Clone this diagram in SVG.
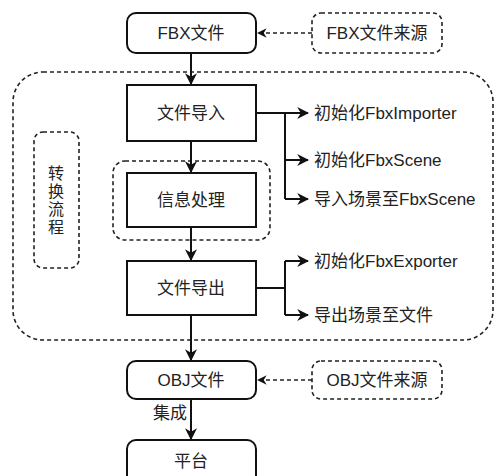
<svg xmlns="http://www.w3.org/2000/svg" width="496" height="476" viewBox="0 0 496 476">
<defs>
<marker id="ah" viewBox="0 0 10 10" refX="9" refY="5" markerWidth="6" markerHeight="6" orient="auto" markerUnits="strokeWidth">
<path d="M0,0 L10,5 L0,10 L3,5 Z" fill="#111"/>
</marker>
<style>
.box{fill:#fff;stroke:#111;stroke-width:2}
.dash{fill:none;stroke:#222;stroke-width:1.6;stroke-dasharray:4 3}
.t{font-family:"Liberation Sans","Noto Sans CJK SC",sans-serif;font-size:17px;fill:#222;text-anchor:middle;dominant-baseline:central}
.v{font-size:16px}
.l{font-family:"Liberation Sans","Noto Sans CJK SC",sans-serif;font-size:17px;fill:#222;dominant-baseline:central}
.c{fill:none;stroke:#111;stroke-width:2}
.cd{fill:none;stroke:#222;stroke-width:1.6;stroke-dasharray:4 3}
</style>
</defs>
<rect width="496" height="476" fill="#fff"/>
<g id="container">
<rect class="dash" x="13" y="72" width="480" height="268" rx="30"/>
</g>
<g id="flow-label">
<rect class="dash" x="34" y="132" width="45" height="136" rx="9"/>
<text class="t v" x="56" y="173">转</text>
<text class="t v" x="56" y="191">换</text>
<text class="t v" x="56" y="209">流</text>
<text class="t v" x="56" y="227">程</text>
</g>
<g id="info-group">
<rect class="dash" x="113" y="161" width="157" height="79" rx="12"/>
</g>
<g id="connectors">
<line class="c" x1="191" y1="53" x2="191" y2="84" marker-end="url(#ah)"/>
<line class="cd" x1="312" y1="33" x2="258" y2="33" marker-end="url(#ah)"/>
<line class="c" x1="191" y1="141" x2="191" y2="172" marker-end="url(#ah)"/>
<line class="c" x1="191" y1="227" x2="191" y2="260" marker-end="url(#ah)"/>
<line class="c" x1="191" y1="315" x2="191" y2="360" marker-end="url(#ah)"/>
<line class="cd" x1="312" y1="380" x2="258" y2="380" marker-end="url(#ah)"/>
<line class="c" x1="191" y1="399" x2="191" y2="439" marker-end="url(#ah)"/>
<path class="c" d="M256,113 H285 V199"/>
<line class="c" x1="285" y1="113" x2="308" y2="113" marker-end="url(#ah)"/>
<line class="c" x1="285" y1="160" x2="308" y2="160" marker-end="url(#ah)"/>
<line class="c" x1="285" y1="199" x2="308" y2="199" marker-end="url(#ah)"/>
<path class="c" d="M256,288 H285 M285,261 V315"/>
<line class="c" x1="285" y1="261" x2="308" y2="261" marker-end="url(#ah)"/>
<line class="c" x1="285" y1="315" x2="308" y2="315" marker-end="url(#ah)"/>
<text class="t" x="170" y="413">集成</text>
</g>
<g id="fbx">
<rect class="box" x="127" y="13" width="129" height="40" rx="9"/>
<text class="t" x="191" y="33">FBX文件</text>
</g>
<g id="fbx-src">
<rect class="dash" x="312" y="13" width="130" height="40" rx="9"/>
<text class="t" x="377" y="33">FBX文件来源</text>
</g>
<g id="import">
<rect class="box" x="127" y="85" width="129" height="56"/>
<text class="t" x="191" y="113">文件导入</text>
</g>
<g id="info">
<rect class="box" x="127" y="173" width="129" height="54"/>
<text class="t" x="191" y="200">信息处理</text>
</g>
<g id="export">
<rect class="box" x="127" y="261" width="129" height="54"/>
<text class="t" x="191" y="288">文件导出</text>
</g>
<g id="labels">
<text class="l" x="314" y="113">初始化FbxImporter</text>
<text class="l" x="314" y="160">初始化FbxScene</text>
<text class="l" x="314" y="199">导入场景至FbxScene</text>
<text class="l" x="314" y="261">初始化FbxExporter</text>
<text class="l" x="314" y="315">导出场景至文件</text>
</g>
<g id="obj">
<rect class="box" x="127" y="361" width="129" height="38" rx="9"/>
<text class="t" x="191" y="380">OBJ文件</text>
</g>
<g id="obj-src">
<rect class="dash" x="312" y="361" width="130" height="38" rx="9"/>
<text class="t" x="377" y="380">OBJ文件来源</text>
</g>
<g id="platform">
<rect class="box" x="127" y="440" width="129" height="50" rx="9"/>
<text class="t" x="191" y="461">平台</text>
</g>
</svg>
